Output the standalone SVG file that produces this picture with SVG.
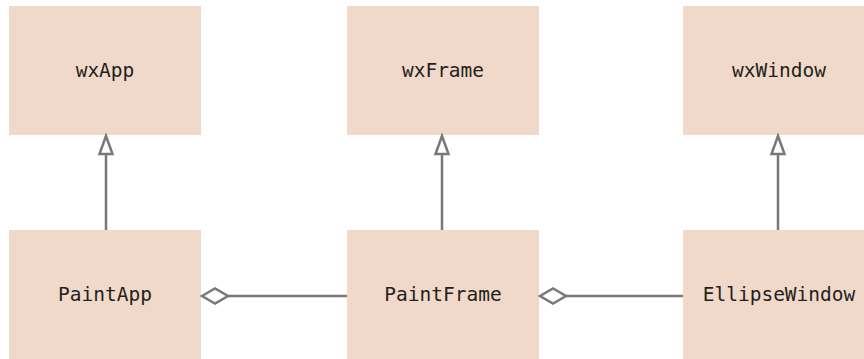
<svg xmlns="http://www.w3.org/2000/svg" width="864" height="359" viewBox="0 0 864 359">
  <style>
    .box { fill: #f0d9c8; }
    .label { font-family: "DejaVu Sans Mono", "Liberation Mono", monospace; font-size: 19.5px; fill: #231f20; text-anchor: middle; }
    .edge { stroke: #77777c; stroke-width: 2.5; fill: none; }
    .head { stroke: #77777c; stroke-width: 2.5; fill: #ffffff; stroke-linejoin: miter; }
  </style>
  <rect width="864" height="359" fill="#ffffff"/>

  <g id="wxApp">
    <rect class="box" x="9" y="6" width="192" height="129"/>
    <text class="label" x="105" y="77">wxApp</text>
  </g>
  <g id="wxFrame">
    <rect class="box" x="347" y="6" width="192" height="129"/>
    <text class="label" x="443" y="77">wxFrame</text>
  </g>
  <g id="wxWindow">
    <rect class="box" x="683" y="6" width="192" height="129"/>
    <text class="label" x="779" y="77">wxWindow</text>
  </g>
  <g id="PaintApp">
    <rect class="box" x="9" y="230" width="192" height="135"/>
    <text class="label" x="105" y="301">PaintApp</text>
  </g>
  <g id="PaintFrame">
    <rect class="box" x="347" y="230" width="192" height="135"/>
    <text class="label" x="443" y="301">PaintFrame</text>
  </g>
  <g id="EllipseWindow">
    <rect class="box" x="683" y="230" width="192" height="135"/>
    <text class="label" x="779" y="301">EllipseWindow</text>
  </g>

  <g id="connectors">
    <!-- generalization: subclass to base class -->
    <line class="edge" x1="106" y1="230" x2="106" y2="154"/>
    <polygon class="head" points="106,136 99.5,154 112.5,154"/>
    <line class="edge" x1="442" y1="230" x2="442" y2="154"/>
    <polygon class="head" points="442,136 435.5,154 448.5,154"/>
    <line class="edge" x1="778" y1="230" x2="778" y2="154"/>
    <polygon class="head" points="778,136 771.5,154 784.5,154"/>
    <!-- aggregation: owner holds the part -->
    <line class="edge" x1="228" y1="296" x2="347" y2="296"/>
    <polygon class="head" points="202,296 215,288.5 228,296 215,303.5"/>
    <line class="edge" x1="566" y1="296" x2="683" y2="296"/>
    <polygon class="head" points="540,296 553,288.5 566,296 553,303.5"/>
  </g>
</svg>
